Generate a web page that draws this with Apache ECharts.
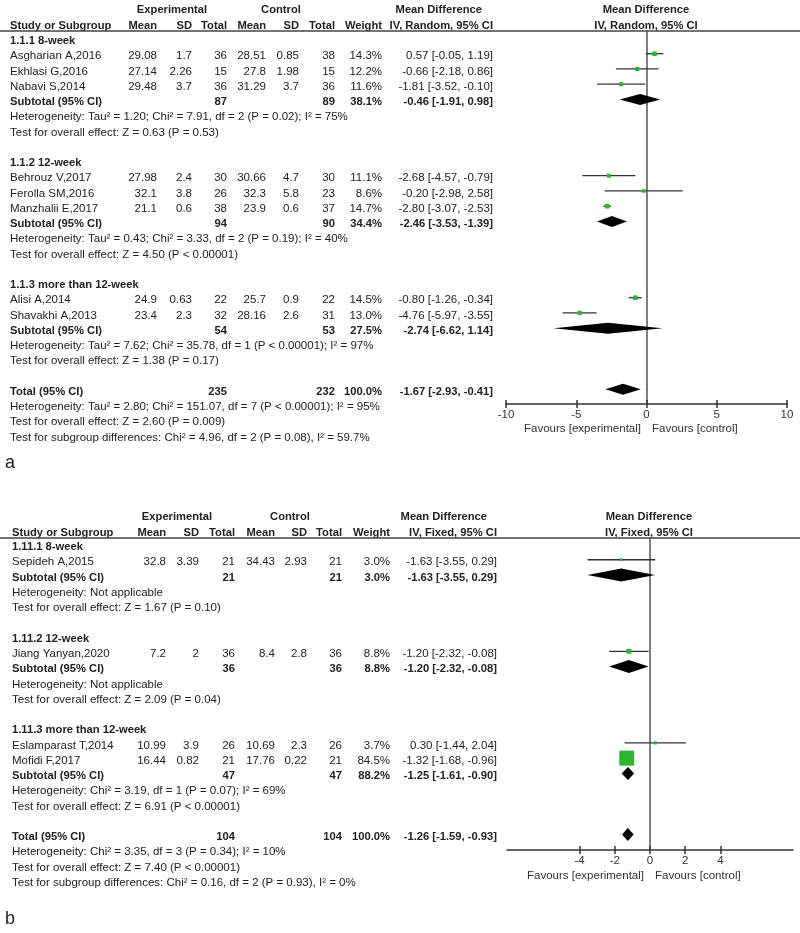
<!DOCTYPE html>
<html><head><meta charset="utf-8">
<script src="https://cdn.jsdelivr.net/npm/echarts@6/dist/echarts.min.js"></script>
<style>html,body{margin:0;padding:0;background:#fff}#c{width:800px;height:933px}</style>
</head><body><div id="c"></div>
<script>
// ---------- Panel a data ----------
const groupNamesA = ['1.1.1 8-week', '1.1.2 12-week', '1.1.3 more than 12-week'];
const groupSizesA = [3, 3, 2];
const studiesA = ['Asgharian A,2016', 'Ekhlasi G,2016', 'Nabavi S,2014', 'Behrouz V,2017', 'Ferolla SM,2016', 'Manzhalii E,2017', 'Alisi A,2014', 'Shavakhi A,2013'];
const expMeanA = ['29.08', '27.14', '29.48', '27.98', '32.1', '21.1', '24.9', '23.4'];
const expSdA = ['1.7', '2.26', '3.7', '2.4', '3.8', '0.6', '0.63', '2.3'];
const expNA = [36, 15, 36, 30, 26, 38, 22, 32];
const ctlMeanA = ['28.51', '27.8', '31.29', '30.66', '32.3', '23.9', '25.7', '28.16'];
const ctlSdA = ['0.85', '1.98', '3.7', '4.7', '5.8', '0.6', '0.9', '2.6'];
const ctlNA = [38, 15, 36, 30, 23, 37, 22, 31];
const weightA = [14.3, 12.2, 11.6, 11.1, 8.6, 14.7, 14.5, 13.0];
const mdA = [0.57, -0.66, -1.81, -2.68, -0.20, -2.80, -0.80, -4.76];
const loA = [-0.05, -2.18, -3.52, -4.57, -2.98, -3.07, -1.26, -5.97];
const hiA = [1.19, 0.86, -0.10, -0.79, 2.58, -2.53, -0.34, -3.55];
const subExpNA = [87, 94, 54];
const subCtlNA = [89, 90, 53];
const subWeightA = [38.1, 34.4, 27.5];
const subMdA = [-0.46, -2.46, -2.74];
const subLoA = [-1.91, -3.53, -6.62];
const subHiA = [0.98, -1.39, 1.14];
const subHetA = [
  'Heterogeneity: Tau² = 1.20; Chi² = 7.91, df = 2 (P = 0.02); I² = 75%',
  'Heterogeneity: Tau² = 0.43; Chi² = 3.33, df = 2 (P = 0.19); I² = 40%',
  'Heterogeneity: Tau² = 7.62; Chi² = 35.78, df = 1 (P < 0.00001); I² = 97%'];
const subTestA = [
  'Test for overall effect: Z = 0.63 (P = 0.53)',
  'Test for overall effect: Z = 4.50 (P < 0.00001)',
  'Test for overall effect: Z = 1.38 (P = 0.17)'];
const totalA = {expN: 235, ctlN: 232, weight: 100.0, md: -1.67, lo: -2.93, hi: -0.41};
const totalTextA = [
  'Heterogeneity: Tau² = 2.80; Chi² = 151.07, df = 7 (P < 0.00001); I² = 95%',
  'Test for overall effect: Z = 2.60 (P = 0.009)',
  'Test for subgroup differences: Chi² = 4.96, df = 2 (P = 0.08), I² = 59.7%'];
const ticksA = [-10, -5, 0, 5, 10];

// ---------- Panel b data ----------
const groupNamesB = ['1.11.1 8-week', '1.11.2 12-week', '1.11.3 more than 12-week'];
const groupSizesB = [1, 1, 2];
const studiesB = ['Sepideh A,2015', 'Jiang Yanyan,2020', 'Eslamparast T,2014', 'Mofidi F,2017'];
const expMeanB = ['32.8', '7.2', '10.99', '16.44'];
const expSdB = ['3.39', '2', '3.9', '0.82'];
const expNB = [21, 36, 26, 21];
const ctlMeanB = ['34.43', '8.4', '10.69', '17.76'];
const ctlSdB = ['2.93', '2.8', '2.3', '0.22'];
const ctlNB = [21, 36, 26, 21];
const weightB = [3.0, 8.8, 3.7, 84.5];
const mdB = [-1.63, -1.20, 0.30, -1.32];
const loB = [-3.55, -2.32, -1.44, -1.68];
const hiB = [0.29, -0.08, 2.04, -0.96];
const subExpNB = [21, 36, 47];
const subCtlNB = [21, 36, 47];
const subWeightB = [3.0, 8.8, 88.2];
const subMdB = [-1.63, -1.20, -1.25];
const subLoB = [-3.55, -2.32, -1.61];
const subHiB = [0.29, -0.08, -0.90];
const subHetB = [
  'Heterogeneity: Not applicable',
  'Heterogeneity: Not applicable',
  'Heterogeneity: Chi² = 3.19, df = 1 (P = 0.07); I² = 69%'];
const subTestB = [
  'Test for overall effect: Z = 1.67 (P = 0.10)',
  'Test for overall effect: Z = 2.09 (P = 0.04)',
  'Test for overall effect: Z = 6.91 (P < 0.00001)'];
const totalB = {expN: 104, ctlN: 104, weight: 100.0, md: -1.26, lo: -1.59, hi: -0.93};
const totalTextB = [
  'Heterogeneity: Chi² = 3.35, df = 3 (P = 0.34); I² = 10%',
  'Test for overall effect: Z = 7.40 (P < 0.00001)',
  'Test for subgroup differences: Chi² = 0.16, df = 2 (P = 0.93), I² = 0%'];
const ticksB = [-4, -2, 0, 2, 4];

// ---------- layout / style ----------
const FONTF = '"Liberation Sans", Arial, sans-serif';
const FS = 11.5;
const FSB = 11.2;
const TXT = '#222';
const GREEN = '#2db52d';
const colsA = {name: 10, em: 157, esd: 192, en: 227, cm: 266, csd: 299, cn: 335, w: 382, md: 493};
const colsB = {name: 12, em: 166, esd: 199, en: 235, cm: 275, csd: 307, cn: 342, w: 390, md: 497};

function f2(v) { return v.toFixed(2); }
function mdStr(m, l, h) { return f2(m) + ' [' + f2(l) + ', ' + f2(h) + ']'; }

function build(d, cols) {
  const rows = [], pts = [], dia = [];
  let r = 0, si = 0;
  const cell = (t, x, align, bold) => ({t: String(t), x, align, bold: !!bold});
  d.groups.forEach((g, gi) => {
    rows.push({row: r, cells: [cell(g, cols.name, 'left', true)]}); r++;
    for (let k = 0; k < d.sizes[gi]; k++, si++) {
      rows.push({row: r, cells: [
        cell(d.studies[si], cols.name, 'left'),
        cell(d.em[si], cols.em, 'right'), cell(d.esd[si], cols.esd, 'right'), cell(d.en[si], cols.en, 'right'),
        cell(d.cm[si], cols.cm, 'right'), cell(d.csd[si], cols.csd, 'right'), cell(d.cn[si], cols.cn, 'right'),
        cell(d.w[si].toFixed(1) + '%', cols.w, 'right'),
        cell(mdStr(d.md[si], d.lo[si], d.hi[si]), cols.md, 'right')]});
      pts.push([d.md[si], r, d.lo[si], d.hi[si], d.w[si]]);
      r++;
    }
    rows.push({row: r, cells: [
      cell('Subtotal (95% CI)', cols.name, 'left', true),
      cell(d.sen[gi], cols.en, 'right', true), cell(d.scn[gi], cols.cn, 'right', true),
      cell(d.sw[gi].toFixed(1) + '%', cols.w, 'right', true),
      cell(mdStr(d.smd[gi], d.slo[gi], d.shi[gi]), cols.md, 'right', true)]});
    dia.push([d.smd[gi], r, d.slo[gi], d.shi[gi]]);
    r++;
    rows.push({row: r, cells: [cell(d.het[gi], cols.name, 'left')]}); r++;
    rows.push({row: r, cells: [cell(d.test[gi], cols.name, 'left')]}); r++;
    r++;
  });
  const t = d.total;
  rows.push({row: r, cells: [
    cell('Total (95% CI)', cols.name, 'left', true),
    cell(t.expN, cols.en, 'right', true), cell(t.ctlN, cols.cn, 'right', true),
    cell(t.weight.toFixed(1) + '%', cols.w, 'right', true),
    cell(mdStr(t.md, t.lo, t.hi), cols.md, 'right', true)]});
  dia.push([t.md, r, t.lo, t.hi]);
  r++;
  d.totalText.forEach(s => { rows.push({row: r, cells: [cell(s, cols.name, 'left')]}); r++; });
  return {rows, pts, dia};
}

const A = build({groups: groupNamesA, sizes: groupSizesA, studies: studiesA, em: expMeanA, esd: expSdA, en: expNA,
  cm: ctlMeanA, csd: ctlSdA, cn: ctlNA, w: weightA, md: mdA, lo: loA, hi: hiA,
  sen: subExpNA, scn: subCtlNA, sw: subWeightA, smd: subMdA, slo: subLoA, shi: subHiA,
  het: subHetA, test: subTestA, total: totalA, totalText: totalTextA}, colsA);
const B = build({groups: groupNamesB, sizes: groupSizesB, studies: studiesB, em: expMeanB, esd: expSdB, en: expNB,
  cm: ctlMeanB, csd: ctlSdB, cn: ctlNB, w: weightB, md: mdB, lo: loB, hi: hiB,
  sen: subExpNB, scn: subCtlNB, sw: subWeightB, smd: subMdB, slo: subLoB, shi: subHiB,
  het: subHetB, test: subTestB, total: totalB, totalText: totalTextB}, colsB);

function font(bold, size) { return (bold ? 'bold ' : '') + (size || (bold ? FSB : FS)) + 'px ' + FONTF; }
function textEl(t, x, y, align, bold, size, color) {
  return {type: 'text', silent: true, style: {text: t, x: x, y: y, textAlign: align, align: align,
    textVerticalAlign: 'middle', verticalAlign: 'middle', font: font(bold, size), fill: color || TXT}};
}

function tableSeries(P, xi, yi) {
  return {type: 'custom', xAxisIndex: xi, yAxisIndex: yi, clip: false, silent: true, z: 5,
    data: P.rows.map(r => [0, r.row]),
    renderItem: function (params, api) {
      const item = P.rows[params.dataIndex];
      const y = api.coord([0, api.value(1)])[1] + 2.5;
      return {type: 'group', children: item.cells.map(c => textEl(c.t, c.x, y, c.align, c.bold))};
    }};
}
function studySeries(P, xi, yi, k) {
  return {type: 'custom', xAxisIndex: xi, yAxisIndex: yi, clip: false, silent: true, z: 4,
    data: P.pts,
    renderItem: function (params, api) {
      const yv = api.value(1);
      const p = api.coord([api.value(0), yv]), a = api.coord([api.value(2), yv]), b = api.coord([api.value(3), yv]);
      const s = k * Math.sqrt(api.value(4));
      return {type: 'group', children: [
        {type: 'line', shape: {x1: a[0], y1: a[1], x2: b[0], y2: b[1]}, style: {stroke: '#333', lineWidth: 1.3}},
        {type: 'rect', shape: {x: p[0] - s / 2, y: p[1] - s / 2, width: s, height: s}, style: {fill: GREEN}}
      ]};
    }};
}
function diamondSeries(P, xi, yi, h) {
  return {type: 'custom', xAxisIndex: xi, yAxisIndex: yi, clip: false, silent: true, z: 4,
    data: P.dia,
    renderItem: function (params, api) {
      const yv = api.value(1);
      const p = api.coord([api.value(0), yv]), a = api.coord([api.value(2), yv]), b = api.coord([api.value(3), yv]);
      return {type: 'polygon', shape: {points: [[a[0], a[1]], [p[0], p[1] - h / 2], [b[0], b[1]], [p[0], p[1] + h / 2]]},
        style: {fill: '#000'}};
    }};
}

function xAxisMain(grid, min, max, ticks) {
  return {type: 'value', gridIndex: grid, min: min, max: max, position: 'bottom',
    axisLine: {onZero: false, lineStyle: {color: '#333', width: 1.5}},
    axisTick: {show: true, length: 4, customValues: ticks, lineStyle: {color: '#333', width: 1.5}},
    axisLabel: {customValues: ticks, fontSize: FS, fontFamily: FONTF, color: '#333', margin: 5},
    splitLine: {show: false}};
}
function xAxisInner(grid, min, max, ticks) {
  return {type: 'value', gridIndex: grid, min: min, max: max, position: 'bottom',
    axisLine: {show: false, onZero: false},
    axisTick: {show: true, inside: true, length: 4, customValues: ticks, lineStyle: {color: '#333', width: 1.5}},
    axisLabel: {show: false}, splitLine: {show: false}};
}
function yAxisRows(grid, min, max) {
  return {type: 'value', gridIndex: grid, min: min, max: max, inverse: true,
    axisLine: {show: true, onZero: true, lineStyle: {color: '#555', width: 1.5}},
    axisTick: {show: false}, axisLabel: {show: false}, splitLine: {show: false}};
}

const graphics = [];
function hdr(t, x, y, align) { graphics.push(textEl(t, x, y, align, true)); }
// panel a header
hdr('Experimental', 172, 10, 'center'); hdr('Control', 281, 10, 'center');
hdr('Mean Difference', 482, 10, 'right'); hdr('Mean Difference', 646, 10, 'center');
hdr('Study or Subgroup', colsA.name, 25.7, 'left');
hdr('Mean', colsA.em, 25.7, 'right'); hdr('SD', colsA.esd, 25.7, 'right'); hdr('Total', colsA.en, 25.7, 'right');
hdr('Mean', colsA.cm, 25.7, 'right'); hdr('SD', colsA.csd, 25.7, 'right'); hdr('Total', colsA.cn, 25.7, 'right');
hdr('Weight', colsA.w, 25.7, 'right'); hdr('IV, Random, 95% CI', colsA.md, 25.7, 'right');
hdr('IV, Random, 95% CI', 646, 25.7, 'center');
// panel b header
hdr('Experimental', 177, 516.7, 'center'); hdr('Control', 290, 516.7, 'center');
hdr('Mean Difference', 487, 516.7, 'right'); hdr('Mean Difference', 649, 516.7, 'center');
hdr('Study or Subgroup', colsB.name, 532.7, 'left');
hdr('Mean', colsB.em, 532.7, 'right'); hdr('SD', colsB.esd, 532.7, 'right'); hdr('Total', colsB.en, 532.7, 'right');
hdr('Mean', colsB.cm, 532.7, 'right'); hdr('SD', colsB.csd, 532.7, 'right'); hdr('Total', colsB.cn, 532.7, 'right');
hdr('Weight', colsB.w, 532.7, 'right'); hdr('IV, Fixed, 95% CI', colsB.md, 532.7, 'right');
hdr('IV, Fixed, 95% CI', 649, 532.7, 'center');
// header rules
graphics.push({type: 'line', silent: true, shape: {x1: 0, y1: 31, x2: 800, y2: 31}, style: {stroke: '#444', lineWidth: 1.5}});
graphics.push({type: 'line', silent: true, shape: {x1: 0, y1: 538, x2: 800, y2: 538}, style: {stroke: '#444', lineWidth: 1.5}});
// favours
graphics.push(textEl('Favours [experimental]', 641, 429, 'right', false, FS, '#333'));
graphics.push(textEl('Favours [control]', 652, 429, 'left', false, FS, '#333'));
graphics.push(textEl('Favours [experimental]', 644, 876, 'right', false, FS, '#333'));
graphics.push(textEl('Favours [control]', 655, 876, 'left', false, FS, '#333'));
// panel labels
graphics.push(textEl('a', 5, 463, 'left', false, 18, '#222'));
graphics.push(textEl('b', 5, 919, 'left', false, 18, '#222'));

const chart = echarts.init(document.getElementById('c'), null, {renderer: 'canvas'});
chart.setOption({
  animation: false,
  backgroundColor: '#fff',
  grid: [
    {left: 506, width: 281, top: 31, height: 373},
    {left: 507, width: 286, top: 538, height: 312}
  ],
  xAxis: [
    xAxisMain(0, -10, 10, ticksA), xAxisInner(0, -10, 10, ticksA),
    xAxisMain(1, -8.12, 8.12, ticksB), xAxisInner(1, -8.12, 8.12, ticksB)
  ],
  yAxis: [yAxisRows(0, -0.49, 23.97), yAxisRows(1, -0.426, 20.02)],
  series: [
    tableSeries(A, 0, 0), studySeries(A, 0, 0, 1.2), diamondSeries(A, 0, 0, 11),
    tableSeries(B, 2, 1), studySeries(B, 2, 1, 1.63), diamondSeries(B, 2, 1, 13)
  ],
  graphic: graphics
});
</script></body></html>
